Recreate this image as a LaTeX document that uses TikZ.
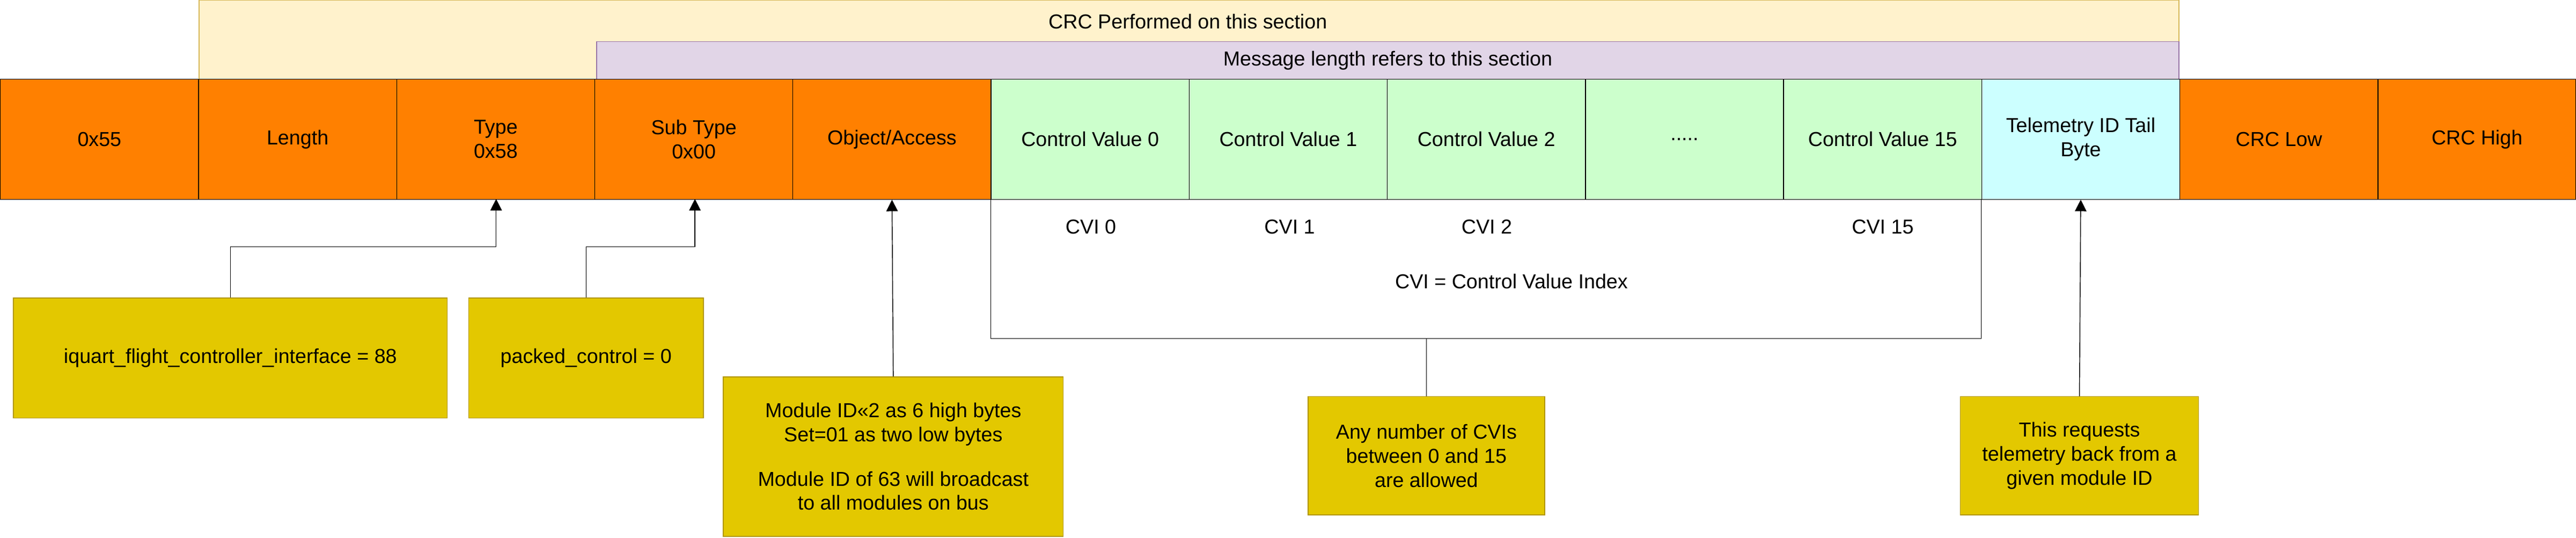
\documentclass[tikz,border=0pt]{standalone}
\usepackage{fontspec}
\setmainfont{Liberation Sans}
\usetikzlibrary{positioning,arrows.meta}
\definecolor{fieldorange}{HTML}{FF8000}
\definecolor{cvgreen}{HTML}{CCFFCC}
\definecolor{tailcyan}{HTML}{CCFFFF}
\definecolor{crcfill}{HTML}{FFF2CC}
\definecolor{crcline}{HTML}{D6B656}
\definecolor{lenfill}{HTML}{E1D5E7}
\definecolor{lenline}{HTML}{9673A6}
\definecolor{notefill}{HTML}{E3C800}
\definecolor{noteline}{HTML}{B09500}
\begin{document}
\begin{tikzpicture}[x=0.3mm,y=-0.3mm,font=\fontsize{10.5}{12.5}\selectfont]
	\tikzset{field/.style={draw=black,fill=fieldorange,minimum width=120.6*0.3mm,minimum height=73*0.3mm,inner sep=1pt,align=center,anchor=north west}}
	\tikzset{note/.style={draw=noteline,fill=notefill,inner sep=2pt,align=center,anchor=north west}}
	\tikzset{link/.style={draw=black,-{Triangle[length=6pt,width=6pt]}}}
	\useasboundingbox (0,0) rectangle (1568,327);
	% bands above the fields
	\node[draw=crcline,fill=crcfill,minimum width=1205*0.3mm,minimum height=48*0.3mm,anchor=north west,inner sep=0pt] (crc) at (121,0) {};
	\node (crctext) at (723,13) {CRC Performed on this section};
	\node[draw=lenline,fill=lenfill,minimum width=963*0.3mm,minimum height=23*0.3mm,anchor=north west,inner sep=0pt] (len) at (363,25) {Message length refers to this section};
	% fields
	\node[field] (sync) at (0,48) {0x55};
	\node[field] (length) at (120.6,48) {Length};
	\node[field] (type) at (241.2,48) {Type\\0x58};
	\node[field] (subtype) at (361.8,48) {Sub Type\\0x00};
	\node[field] (object) at (482.4,48) {Object/Access};
	\node[field,fill=cvgreen] (cv0) at (603,48) {Control Value 0};
	\node[field,fill=cvgreen] (cv1) at (723.6,48) {Control Value 1};
	\node[field,fill=cvgreen] (cv2) at (844.2,48) {Control Value 2};
	\node[field,fill=cvgreen] (cvdots) at (964.8,48) {.....};
	\node[field,fill=cvgreen] (cv15) at (1085.4,48) {Control Value 15};
	\node[field,fill=tailcyan] (tail) at (1206,48) {Telemetry ID Tail\\Byte};
	\node[field] (crclow) at (1326.6,48) {CRC Low};
	\node[field] (crchigh) at (1447.2,48) {CRC High};
	% control value indices
	\node (cvi0) at (664,138) {CVI 0};
	\node (cvi1) at (785,138) {CVI 1};
	\node (cvi2) at (905,138) {CVI 2};
	\node (cvi15) at (1146,138) {CVI 15};
	\node (cvidef) at (920,171) {CVI = Control Value Index};
	\coordinate (bl) at (603,206);
	\coordinate (br) at (1206,206);
	\draw (cv0.south west) -- (bl) -- (br) -- (tail.south west);
	% notes
	\node[note,minimum width=264*0.3mm,minimum height=73*0.3mm] (n1) at (8,181) {iquart\_flight\_controller\_interface = 88};
	\node[note,minimum width=143*0.3mm,minimum height=73*0.3mm] (n2) at (285,181) {packed\_control = 0};
	\node[note,minimum width=207*0.3mm,minimum height=97*0.3mm] (n3) at (440,229) {Module ID<<2 as 6 high bytes\\Set=01 as two low bytes\\[1em]Module ID of 63 will broadcast\\to all modules on bus};
	\node[note,minimum width=144*0.3mm,minimum height=72*0.3mm] (n4) at (796,241) {Any number of CVIs\\between 0 and 15\\are allowed};
	\node[note,minimum width=145*0.3mm,minimum height=72*0.3mm] (n5) at (1193,241) {This requests\\telemetry back from a\\given module ID};
	\draw[link] (n1.north) |- (302,150) -- (302,121);
	\draw[link] (n2.north) |- (423,150) -- (423,121);
	\draw[link] (n3.north) -- (object.south);
	\draw (n4.north) -- (n4.north |- bl);
	\draw[link] (n5.north) -- (tail.south);
\end{tikzpicture}
\end{document}
